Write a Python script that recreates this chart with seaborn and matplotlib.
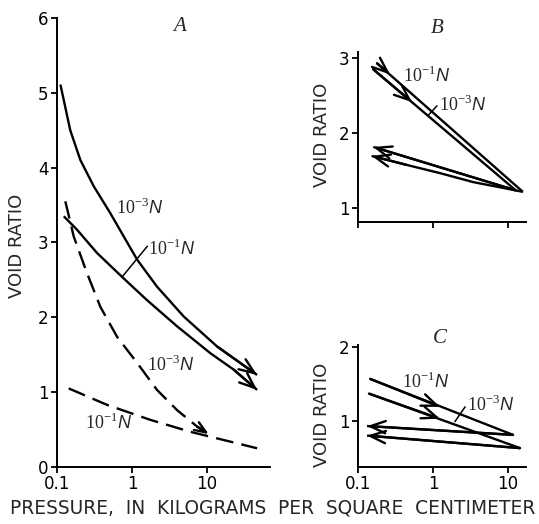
import matplotlib
matplotlib.use("Agg")
import matplotlib.pyplot as plt
from matplotlib.ticker import NullLocator, FixedLocator, FixedFormatter
import seaborn as sns
import pandas as pd

# ---------------- data ----------------
# Panel A
a_solid3_x = [0.111, 0.150, 0.205, 0.309, 0.514, 0.775, 1.17, 2.15, 4.89, 13.6, 46.4]
a_solid3_y = [5.11, 4.50, 4.10, 3.75, 3.39, 3.08, 2.77, 2.41, 2.01, 1.61, 1.23]
a_solid1_x = [0.123, 0.185, 0.341, 0.736, 1.58, 3.98, 11.07, 22.7, 46.4]
a_solid1_y = [3.35, 3.17, 2.86, 2.54, 2.23, 1.88, 1.52, 1.30, 1.03]
a_dash3_x = [0.129, 0.167, 0.251, 0.378, 0.631, 1.17, 2.15, 3.98, 7.36, 10.5]
a_dash3_y = [3.55, 3.08, 2.59, 2.14, 1.74, 1.39, 1.03, 0.76, 0.54, 0.44]
a_dash1_x = [0.143, 0.464, 1.75, 6.0, 16.7, 46.4]
a_dash1_y = [1.05, 0.83, 0.63, 0.47, 0.36, 0.25]

# Panel B
b_load1_x = [0.179, 15.8]
b_load1_y = [2.93, 1.21]
b_load3_x = [0.159, 12.7]
b_load3_y = [2.85, 1.23]
b_unload1_x = [15.8, 7.88, 3.44, 1.24, 0.446, 0.152]
b_unload1_y = [1.21, 1.27, 1.34, 1.46, 1.57, 1.69]
b_unload3_x = [12.7, 0.16]
b_unload3_y = [1.23, 1.81]
b_mid_arrows = [((0.179, 2.93), (0.267, 2.78)), ((0.159, 2.85), (0.525, 2.41))]

# Panel C
c_load1_x = [0.145, 11.7]
c_load1_y = [1.57, 0.81]
c_load3_x = [0.14, 14.5]
c_load3_y = [1.37, 0.63]
c_unload1_x = [11.7, 0.132]
c_unload1_y = [0.81, 0.93]
c_unload3_x = [14.5, 0.132]
c_unload3_y = [0.63, 0.80]
c_mid_arrows = [((0.145, 1.57), (1.24, 1.19)), ((0.14, 1.37), (1.24, 1.03))]

x_ticks = [0.1, 1, 10]
x_ticklabels = ["0.1", "1", "10"]
lab3 = r"$10^{-3}N$"
lab1 = r"$10^{-1}N$"

# ---------------- style ----------------
sns.set_style("ticks")
plt.rcParams["font.family"] = ["DejaVu Sans"]
plt.rcParams["mathtext.fontset"] = "custom"
plt.rcParams["mathtext.rm"] = "Liberation Serif"
plt.rcParams["mathtext.it"] = "Liberation Sans:italic"

LW = 1.7
K = "black"
HEAD = "->,head_length=0.55,head_width=0.22"
LABFS = 13

fig = plt.figure(figsize=(5.39, 5.24), dpi=100)
axA = fig.add_axes([0.1058, 0.1088, 0.3952, 0.8569])
axB = fig.add_axes([0.6642, 0.5754, 0.3117, 0.3254])
axC = fig.add_axes([0.6642, 0.1088, 0.3117, 0.2328])


def line(ax, xs, ys, dashed=False):
    df = pd.DataFrame({"x": xs, "y": ys})
    sns.lineplot(data=df, x="x", y="y", ax=ax, sort=False, estimator=None,
                 color=K, lw=LW)
    ln = ax.lines[-1]
    if dashed:
        ln.set_dashes((7.5, 3.5))
    ln.set_solid_capstyle("butt")
    ln.set_solid_joinstyle("round")


def arrow(ax, tail, tip, scale=20):
    ax.annotate("", xy=tip, xytext=tail,
                arrowprops=dict(arrowstyle=HEAD, lw=LW, color=K,
                                shrinkA=0, shrinkB=0, mutation_scale=scale))


def end_arrow(ax, xs, ys, scale=20):
    arrow(ax, (xs[-2], ys[-2]), (xs[-1], ys[-1]), scale)


for ax in (axA, axB, axC):
    ax.set_xscale("log")

# Panel A
line(axA, a_solid3_x, a_solid3_y)
line(axA, a_solid1_x, a_solid1_y)
line(axA, a_dash3_x, a_dash3_y, dashed=True)
line(axA, a_dash1_x, a_dash1_y, dashed=True)
end_arrow(axA, a_solid3_x, a_solid3_y)
end_arrow(axA, a_solid1_x, a_solid1_y)
end_arrow(axA, a_dash3_x, a_dash3_y, scale=15)
axA.plot([0.736, 1.60], [2.54, 2.95], color=K, lw=1.1)
axA.text(0.617, 3.46, lab3, fontsize=LABFS, ha="left", va="center")
axA.text(1.62, 2.92, lab1, fontsize=LABFS, ha="left", va="center")
axA.text(1.58, 1.37, lab3, fontsize=LABFS, ha="left", va="center")
axA.text(0.239, 0.59, lab1, fontsize=LABFS, ha="left", va="center")
axA.text(4.24, 5.88, "A", fontsize=15, style="italic",
         family="Liberation Serif", ha="center", va="center")
axA.set_xlim(0.1, 69)
axA.set_ylim(0, 6)
axA.set_yticks([0, 1, 2, 3, 4, 5, 6])

# Panel B
line(axB, b_load1_x, b_load1_y)
line(axB, b_load3_x, b_load3_y)
line(axB, b_unload1_x, b_unload1_y)
line(axB, b_unload3_x, b_unload3_y)
end_arrow(axB, b_unload1_x, b_unload1_y)
end_arrow(axB, b_unload3_x, b_unload3_y)
for tail, tip in b_mid_arrows:
    arrow(axB, tail, tip)
axB.plot([0.86, 1.13], [2.23, 2.36], color=K, lw=1.1)
axB.text(0.398, 2.76, lab1, fontsize=LABFS, ha="left", va="center")
axB.text(1.2, 2.37, lab3, fontsize=LABFS, ha="left", va="center")
axB.text(1.13, 3.4, "B", fontsize=15, style="italic", family="Liberation Serif",
         ha="center", va="center", clip_on=False)
axB.set_xlim(0.1, 17.4)
axB.set_ylim(0.80, 3.08)
axB.set_yticks([1, 2, 3])

# Panel C
line(axC, c_load1_x, c_load1_y)
line(axC, c_load3_x, c_load3_y)
line(axC, c_unload1_x, c_unload1_y)
line(axC, c_unload3_x, c_unload3_y)
end_arrow(axC, c_unload1_x, c_unload1_y)
end_arrow(axC, c_unload3_x, c_unload3_y)
for tail, tip in c_mid_arrows:
    arrow(axC, tail, tip)
axC.plot([1.96, 2.68], [0.99, 1.19], color=K, lw=1.1)
axC.text(0.385, 1.53, lab1, fontsize=LABFS, ha="left", va="center")
axC.text(2.85, 1.21, lab3, fontsize=LABFS, ha="left", va="center")
axC.text(1.24, 2.12, "C", fontsize=15, style="italic", family="Liberation Serif",
         ha="center", va="center", clip_on=False)
axC.set_xlim(0.1, 17.4)
axC.set_ylim(0.374, 2.03)
axC.set_yticks([1, 2])

for ax in (axA, axB, axC):
    sns.despine(ax=ax)
    for s in ("left", "bottom"):
        ax.spines[s].set_linewidth(1.4)
        ax.spines[s].set_color(K)
    ax.xaxis.set_major_locator(FixedLocator(x_ticks))
    ax.xaxis.set_major_formatter(FixedFormatter(x_ticklabels))
    ax.xaxis.set_minor_locator(NullLocator())
    ax.set_xlabel("")
    ax.set_ylabel("")
    ax.tick_params(direction="out", length=4.5, width=1.3, labelsize=12,
                   pad=1.5, colors=K)
    ax.set_facecolor("white")

axB.tick_params(axis="x", labelbottom=False)

fig.text(0.5065, 0.0305, "PRESSURE,  IN  KILOGRAMS  PER  SQUARE  CENTIMETER",
         ha="center", va="center", fontsize=13.4)
fig.text(0.0315, 0.5305, "VOID RATIO", rotation=90, ha="center", va="center", fontsize=13)
fig.text(0.597, 0.742, "VOID RATIO", rotation=90, ha="center", va="center", fontsize=13)
fig.text(0.597, 0.208, "VOID RATIO", rotation=90, ha="center", va="center", fontsize=13)

fig.savefig("out.png", dpi=100, facecolor="white")
